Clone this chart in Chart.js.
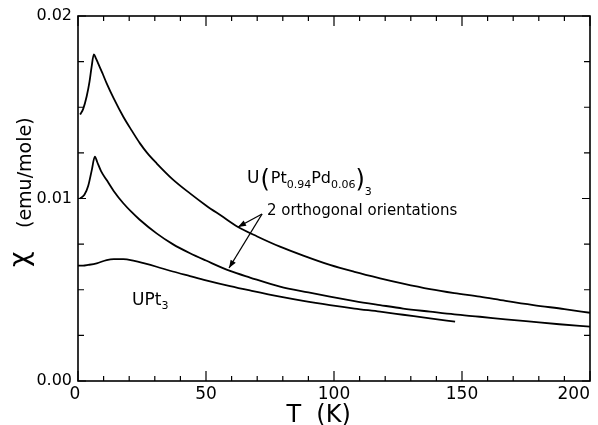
<!DOCTYPE html>
<html>
<head>
<meta charset="utf-8">
<script src="https://cdn.jsdelivr.net/npm/chart.js@4.4.0/dist/chart.umd.min.js"></script>
<style>
    html, body { margin: 0; padding: 0; background: #fff; }
</style>
</head>
<body>
<canvas id="chi_chart" width="598" height="425"></canvas>
<script>
// values: T in K, chi in emu/mole
var t_upper = [0.8, 2, 3.4, 4.5, 5.3, 6.2, 7, 8, 9.5, 11.2, 14, 17.7, 21, 24.2, 27, 30.7, 37, 43.75, 50, 56, 62.5, 70, 78.9, 88, 98.4, 108, 118, 127, 137.5, 147, 157, 167, 177.9, 190, 200];
var chi_upper = [0.0146, 0.0149, 0.0156, 0.0164, 0.0172, 0.0179, 0.01768, 0.01736, 0.01688, 0.01631, 0.01547, 0.01448, 0.01372, 0.01302, 0.0125, 0.01193, 0.01105, 0.01028, 0.00962, 0.00905, 0.00844, 0.00792, 0.00736, 0.00687, 0.00636, 0.00598, 0.00563, 0.00534, 0.00504, 0.00482, 0.00462, 0.00439, 0.00416, 0.00394, 0.00374];

var t_middle = [0.8, 2.5, 4, 5.3, 6.6, 7.5, 9, 11.2, 14, 17.7, 21, 24, 30.7, 37, 43.75, 50, 59.4, 67.2, 78.9, 90, 98.4, 108, 118, 127, 137.5, 147, 157, 167, 177, 188, 200];
var chi_middle = [0.0100, 0.0102, 0.0107, 0.0115, 0.01229, 0.0120, 0.0115, 0.01101, 0.0104, 0.00974, 0.00925, 0.00885, 0.00809, 0.0075, 0.0070, 0.0066, 0.00603, 0.00567, 0.00517, 0.00485, 0.00462, 0.00438, 0.00416, 0.00397, 0.0038, 0.00365, 0.00352, 0.00338, 0.00325, 0.00311, 0.00298];

var t_upt3 = [0, 2, 4, 7.3, 11.2, 14, 17.7, 22, 26, 30.7, 37, 43.75, 50, 59.4, 67.2, 78.9, 88, 98.4, 108, 118, 127, 137.5, 147.3];
var chi_upt3 = [0.00632, 0.00632, 0.00636, 0.00645, 0.00663, 0.00668, 0.00668, 0.00658, 0.00644, 0.00626, 0.0060, 0.00575, 0.00552, 0.0052, 0.00496, 0.00462, 0.00439, 0.00416, 0.00397, 0.0038, 0.00363, 0.00343, 0.00325];

var x_ticks = [0, 50, 100, 150, 200];
var y_ticks = [0.00, 0.01, 0.02];

var font_family = "'DejaVu Sans', 'Liberation Sans', sans-serif";

function toPoints(xs, ys) {
    var pts = [];
    for (var i = 0; i < xs.length; i++) {
        pts.push({ x: xs[i], y: ys[i] });
    }
    return pts;
}

function curve(pts) {
    return {
        data: pts,
        showLine: true,
        borderColor: '#000',
        borderWidth: 1.8,
        pointRadius: 0,
        cubicInterpolationMode: 'monotone',
        fill: false
    };
}

function isLabelled(v, list) {
    for (var i = 0; i < list.length; i++) {
        if (Math.abs(v - list[i]) < 1e-9) return true;
    }
    return false;
}

// text with sub-pieces: each part {t, size, dy}
function drawParts(ctx, x, y, parts) {
    var cx = x;
    for (var i = 0; i < parts.length; i++) {
        var p = parts[i];
        ctx.font = p.size + 'px ' + font_family;
        ctx.fillText(p.t, cx, y + (p.dy || 0));
        cx += ctx.measureText(p.t).width + (p.gap || 0);
    }
}

function arrow(ctx, x1, y1, x2, y2) {
    ctx.beginPath();
    ctx.moveTo(x1, y1);
    ctx.lineTo(x2, y2);
    ctx.stroke();
    var ang = Math.atan2(y2 - y1, x2 - x1);
    var len = 8, w = 3;
    ctx.beginPath();
    ctx.moveTo(x2, y2);
    ctx.lineTo(x2 - len * Math.cos(ang) + w * Math.sin(ang), y2 - len * Math.sin(ang) - w * Math.cos(ang));
    ctx.lineTo(x2 - len * Math.cos(ang) - w * Math.sin(ang), y2 - len * Math.sin(ang) + w * Math.cos(ang));
    ctx.closePath();
    ctx.fill();
}

var framePlugin = {
    id: 'frame',
    afterDraw: function (chart) {
        var ctx = chart.ctx;
        var a = chart.chartArea;
        var xs = chart.scales.x, ys = chart.scales.y;
        ctx.save();
        ctx.strokeStyle = '#000';
        ctx.fillStyle = '#000';
        ctx.lineWidth = 1.6;
        ctx.strokeRect(a.left, a.top, a.right - a.left, a.bottom - a.top);

        // inward ticks on all four sides
        ctx.lineWidth = 1.2;
        ctx.beginPath();
        for (var t = 0; t <= 200; t += 10) {
            var px = xs.getPixelForValue(t);
            var len = (t % 50 === 0) ? 10 : 5;
            ctx.moveTo(px, a.bottom); ctx.lineTo(px, a.bottom - len);
            ctx.moveTo(px, a.top); ctx.lineTo(px, a.top + len);
        }
        for (var k = 0; k <= 8; k++) {
            var py = ys.getPixelForValue(k * 0.0025);
            var ylen = (k % 4 === 0) ? 8 : 6;
            ctx.moveTo(a.left, py); ctx.lineTo(a.left + ylen, py);
            ctx.moveTo(a.right, py); ctx.lineTo(a.right - ylen, py);
        }
        ctx.stroke();

        // x tick labels (last one kept inside the frame, as in the figure)
        ctx.textBaseline = 'alphabetic';
        ctx.font = '17px ' + font_family;
        for (var i = 0; i < x_ticks.length; i++) {
            var last = (i === x_ticks.length - 1);
            ctx.textAlign = last ? 'right' : 'center';
            var lx = xs.getPixelForValue(x_ticks[i]) + (i === 0 ? -3 : 0);
            ctx.fillText(String(x_ticks[i]), lx, a.bottom + 18);
        }

        // axis titles
        ctx.textAlign = 'center';
        ctx.font = '24px ' + font_family;
        ctx.fillText('T  (K)', xs.getPixelForValue(94), 422);

        ctx.save();
        ctx.translate(31, 267);
        ctx.rotate(-Math.PI / 2);
        ctx.textAlign = 'left';
        ctx.font = '27px ' + font_family;
        ctx.fillText('\u03c7', 0, -3);
        ctx.font = '19px ' + font_family;
        ctx.fillText('(emu/mole)', 39, 0);
        ctx.restore();

        // annotations
        ctx.textAlign = 'left';
        drawParts(ctx, xs.getPixelForValue(66), ys.getPixelForValue(0.01085), [
            { t: 'U', size: 17, gap: 1 },
            { t: '(', size: 24, dy: 4, gap: 1 },
            { t: 'Pt', size: 16 },
            { t: '0.94', size: 11, dy: 5 },
            { t: 'Pd', size: 16 },
            { t: '0.06', size: 11, dy: 5 },
            { t: ')', size: 24, dy: 4 },
            { t: '3', size: 11, dy: 12 }
        ]);
        ctx.font = '15px ' + font_family;
        ctx.fillText('2 orthogonal orientations', xs.getPixelForValue(73.8), ys.getPixelForValue(0.0091));

        drawParts(ctx, xs.getPixelForValue(21.1), ys.getPixelForValue(0.00416), [
            { t: 'UPt', size: 17 },
            { t: '3', size: 11, dy: 4 }
        ]);

        ctx.lineWidth = 1.3;
        var ox = xs.getPixelForValue(71.9), oy = ys.getPixelForValue(0.00915);
        arrow(ctx, ox, oy, xs.getPixelForValue(62.5), ys.getPixelForValue(0.00844));
        arrow(ctx, ox, oy, xs.getPixelForValue(59.0), ys.getPixelForValue(0.00619));
        ctx.restore();
    }
};

new Chart(document.getElementById('chi_chart').getContext('2d'), {
    type: 'scatter',
    data: {
        datasets: [
            curve(toPoints(t_upper, chi_upper)),
            curve(toPoints(t_middle, chi_middle)),
            curve(toPoints(t_upt3, chi_upt3))
        ]
    },
    options: {
        responsive: false,
        animation: false,
        layout: { padding: { top: 16, right: 8, left: 0, bottom: 0 } },
        plugins: {
            legend: { display: false },
            tooltip: { enabled: false }
        },
        scales: {
            x: {
                type: 'linear',
                min: 0,
                max: 200,
                afterFit: function (s) { s.height = 44; s.paddingLeft = 0; s.paddingRight = 0; },
                grid: { display: false, drawTicks: false },
                border: { display: false },
                ticks: { display: false, stepSize: 10 }
            },
            y: {
                type: 'linear',
                min: 0,
                max: 0.02,
                afterFit: function (s) { s.width = 78; s.paddingTop = 0; s.paddingBottom = 0; },
                grid: { display: false, drawTicks: false },
                border: { display: false },
                ticks: {
                    stepSize: 0.0025,
                    autoSkip: false,
                    padding: 6,
                    color: '#000',
                    font: { family: font_family, size: 16 },
                    callback: function (v) { return isLabelled(v, y_ticks) ? v.toFixed(2) : ''; }
                }
            }
        }
    },
    plugins: [framePlugin]
});
</script>
</body>
</html>
